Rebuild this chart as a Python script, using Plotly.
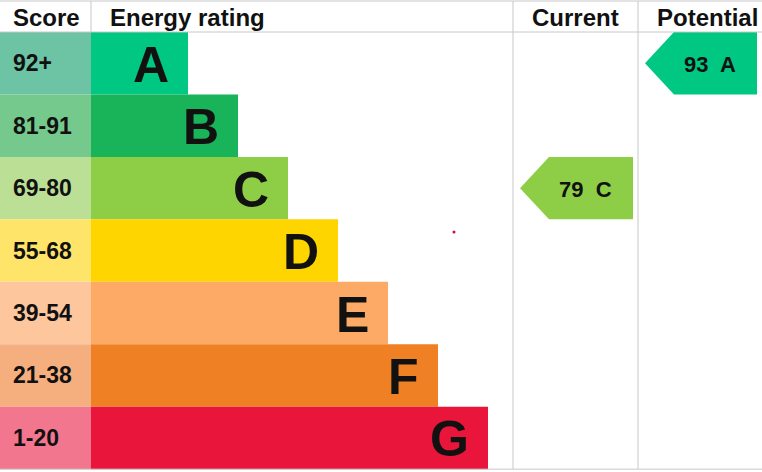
import plotly.graph_objects as go

# ---- data ----
bands = ["A", "B", "C", "D", "E", "F", "G"]
score_ranges = ["92+", "81-91", "69-80", "55-68", "39-54", "21-38", "1-20"]
band_min_scores = [92, 81, 69, 55, 39, 21, 1]
bar_lengths = [97, 147, 197, 247, 297, 347, 397]
bar_colors = ["#00c781", "#19b459", "#8dce46", "#ffd500", "#fcaa65", "#ef8023", "#e9153b"]
score_colors = ["#6cc4a4", "#75c98d", "#bbdf95", "#ffe46a", "#fdc69d", "#f5af7e", "#f2768e"]
current_score = 79
potential_score = 93
headers = ["Score", "Energy rating", "Current", "Potential"]

# ---- layout geometry ----
W, H = 762, 472
header_h = 32
row_h = 62.45
score_w = 91
cur_left, cur_right = 513, 638
pot_left, pot_right = 638, 762
grid_color = "#c8c8c8"
FONT = "Liberation Sans, Arial, sans-serif"

def band_index(score):
    for i, m in enumerate(band_min_scores):
        if score >= m:
            return i
    return len(bands) - 1

row_centers = [header_h + row_h * (i + 0.5) for i in range(len(bands))]

fig = go.Figure()

# score column cells
fig.add_trace(go.Bar(
    orientation="h", y=row_centers, x=[score_w] * len(bands), base=0,
    width=row_h, marker=dict(color=score_colors, line=dict(width=0)),
    hoverinfo="skip", showlegend=False,
))
# rating bars
fig.add_trace(go.Bar(
    orientation="h", y=row_centers, x=bar_lengths, base=score_w,
    width=row_h, marker=dict(color=bar_colors, line=dict(width=0)),
    hoverinfo="skip", showlegend=False,
))

annotations = []
# score labels
for yc, s in zip(row_centers, score_ranges):
    annotations.append(dict(x=11, y=yc, text=f"<b>{s}</b>", xanchor="left", yanchor="middle",
                            showarrow=False, font=dict(family=FONT, size=23, color="#111111")))
# band letters
for yc, b, L in zip(row_centers, bands, bar_lengths):
    annotations.append(dict(x=score_w + L - 17, y=yc + 1.5, text=f"<b>{b}</b>", xanchor="right",
                            yanchor="middle", showarrow=False,
                            font=dict(family=FONT, size=50, color="#111111")))

# arrows
def add_arrow(score, col_left, col_right):
    i = band_index(score)
    top = header_h + row_h * i
    bot = top + row_h
    mid = (top + bot) / 2
    tip = col_left + 7
    slant = tip + 29
    right = col_right - 5
    xs = [tip, slant, right, right, slant, tip]
    ys = [mid, top, top, bot, bot, mid]
    fig.add_trace(go.Scatter(x=xs, y=ys, fill="toself", fillcolor=bar_colors[i], mode="lines",
                             line=dict(width=0, color=bar_colors[i]), hoverinfo="skip",
                             showlegend=False))
    annotations.append(dict(x=col_left + 72, y=mid + 1, text=f"<b>{score}  {bands[i]}</b>",
                            xanchor="center", yanchor="middle", showarrow=False,
                            font=dict(family=FONT, size=22, color="#111111")))

add_arrow(current_score, cur_left, cur_right)
add_arrow(potential_score, pot_left, pot_right)

# stray dot in the picture
fig.add_trace(go.Scatter(x=[454], y=[232], mode="markers",
                         marker=dict(size=3, color="#d0103a"), hoverinfo="skip", showlegend=False))

# headers
header_pos = [(46, "center"), (108, "left"), ((cur_left + cur_right) / 2, "center"), (655, "left")]
for (hx, anc), t in zip(header_pos, headers):
    annotations.append(dict(x=hx, y=header_h / 2 + 1, text=f"<b>{t}</b>", xanchor=anc,
                            yanchor="middle", showarrow=False,
                            font=dict(family=FONT, size=24, color="#111111")))

bottom = header_h + row_h * len(bands)
line = dict(color=grid_color, width=1)
shapes = [
    dict(type="line", x0=0, x1=W, y0=1, y1=1, line=line, layer="above"),
    dict(type="line", x0=0, x1=W, y0=header_h, y1=header_h, line=line, layer="above"),
    dict(type="line", x0=0, x1=W, y0=bottom, y1=bottom, line=line, layer="above"),
    dict(type="line", x0=score_w, x1=score_w, y0=1, y1=header_h, line=line, layer="above"),
    dict(type="line", x0=cur_left, x1=cur_left, y0=1, y1=bottom, line=line, layer="below"),
    dict(type="line", x0=cur_right, x1=cur_right, y0=1, y1=bottom, line=line, layer="below"),
]

fig.update_layout(
    width=W, height=H, margin=dict(l=0, r=0, t=0, b=0),
    paper_bgcolor="white", plot_bgcolor="white",
    xaxis=dict(range=[0, W], visible=False, fixedrange=True),
    yaxis=dict(range=[H, 0], visible=False, fixedrange=True),
    barmode="overlay", annotations=annotations, shapes=shapes,
)

fig.write_html("out.html", config={"displayModeBar": False},
               post_script="document.body.style.margin='0';document.body.style.overflow='hidden';")
